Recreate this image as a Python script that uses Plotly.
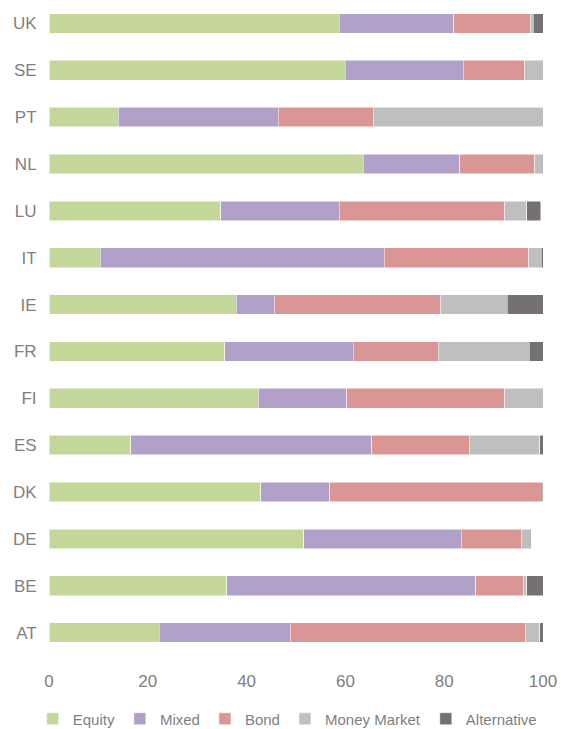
import plotly.graph_objects as go

countries = ["UK", "SE", "PT", "NL", "LU", "IT", "IE", "FR", "FI", "ES", "DK", "DE", "BE", "AT"]
equity = [58.8, 60.0, 14.0, 63.6, 34.8, 10.4, 37.9, 35.6, 42.4, 16.5, 42.9, 51.6, 36.0, 22.3]
mixed = [23.1, 23.9, 32.4, 19.5, 24.0, 57.5, 7.7, 26.0, 17.9, 48.8, 13.9, 31.9, 50.4, 26.5]
bond = [15.5, 12.4, 19.2, 15.2, 33.5, 29.2, 33.6, 17.2, 32.0, 19.8, 43.0, 12.1, 9.6, 47.6]
money_market = [0.6, 3.7, 34.4, 1.5, 4.4, 2.5, 13.6, 18.4, 7.7, 14.2, 0.0, 1.6, 0.7, 2.9]
alternative = [2.0, 0.0, 0.0, 0.2, 2.8, 0.4, 7.2, 2.8, 0.0, 0.7, 0.2, 0.3, 3.3, 0.7]
x_ticks = [0, 20, 40, 60, 80, 100]

series = [
    ("Equity", equity, "#C4D79B"),
    ("Mixed", mixed, "#B1A0C7"),
    ("Bond", bond, "#DA9694"),
    ("Money Market", money_market, "#BFBFBF"),
    ("Alternative", alternative, "#767171"),
]

fig = go.Figure()
for name, vals, color in series:
    fig.add_trace(go.Bar(
        y=countries, x=vals, name=name, orientation="h",
        marker=dict(color=color, line=dict(color="white", width=0.5)),
    ))

font_color = "#7F7F7F"
fig.update_layout(
    barmode="stack",
    bargap=0.58,
    width=561, height=729,
    margin=dict(l=49, r=18, t=0, b=73, autoexpand=False),
    paper_bgcolor="white", plot_bgcolor="white",
    font=dict(family="Liberation Sans, Arial, sans-serif", size=17, color=font_color),
    xaxis=dict(range=[0, 100], tickvals=x_ticks, showgrid=False,
               zeroline=False, showline=False, ticks="outside", ticklen=10,
               tickcolor="rgba(0,0,0,0)",
               tickfont=dict(size=17, color=font_color)),
    yaxis=dict(range=[13.5, -0.5], showgrid=False, zeroline=False, showline=False,
               ticks="outside", ticklen=8, tickcolor="rgba(0,0,0,0)",
               tickfont=dict(size=17, color=font_color)),
    legend=dict(orientation="h", x=-0.033, xanchor="left", y=-0.096, yanchor="middle",
                font=dict(size=15, color=font_color), traceorder="normal",
                itemwidth=30, tracegroupgap=0),
    showlegend=True,
)

fig.write_html(
    "out.html",
    config={"displayModeBar": False},
    post_script="document.body.style.margin='0';document.body.style.overflow='hidden';",
)
